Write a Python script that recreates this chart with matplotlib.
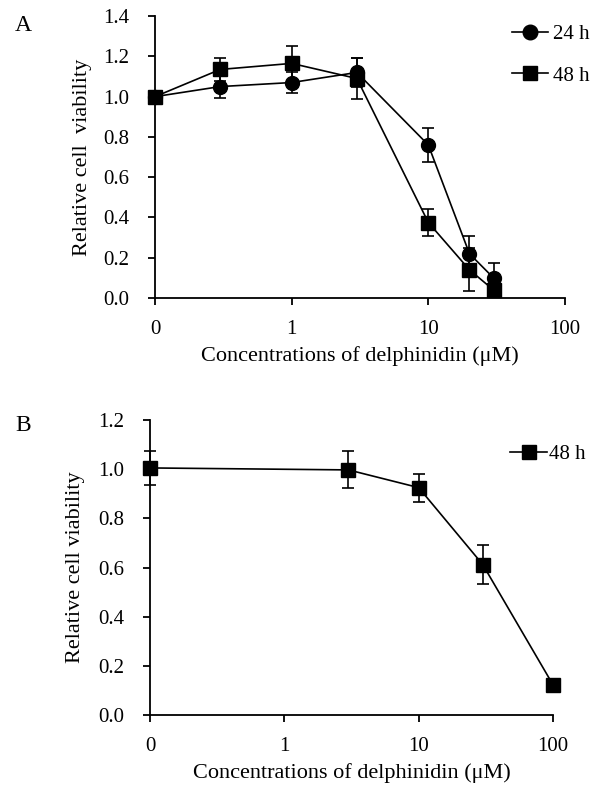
import matplotlib
matplotlib.use("Agg")
import matplotlib.pyplot as plt
from matplotlib.lines import Line2D
from matplotlib.ticker import FixedLocator, FixedFormatter, NullLocator

plt.rcParams['font.family'] = ['Liberation Serif', 'DejaVu Serif']
plt.rcParams['font.size'] = 15

# Panel A data
conc_a = [0.1, 0.3, 1, 3, 10, 20, 30]
v24 = [1.00, 1.05, 1.07, 1.12, 0.76, 0.22, 0.10]
e24 = [0.02, 0.055, 0.05, 0.07, 0.085, 0.09, 0.075]
v48a = [1.00, 1.135, 1.165, 1.09, 0.375, 0.14, 0.04]
e48a = [0.02, 0.055, 0.085, 0.10, 0.065, 0.107, 0.02]

# Panel B data
conc_b = [0.1, 3, 10, 30, 100]
v48b = [1.005, 0.997, 0.925, 0.612, 0.123]
e48b = [0.07, 0.075, 0.057, 0.08, 0.01]

xticks = [0.1, 1, 10, 100]
xticklabels = ["0", "1", "10", "100"]
xlabel = "Concentrations of delphinidin (\u03bcM)"

fig = plt.figure(figsize=(6.02, 7.92), dpi=100)

def style(ax, ymax, ylabel):
    ax.set_xscale('log')
    ax.set_xlim(0.1, 100)
    ax.set_ylim(0, ymax)
    ax.xaxis.set_major_locator(FixedLocator(xticks))
    ax.xaxis.set_major_formatter(FixedFormatter(xticklabels))
    ax.xaxis.set_minor_locator(NullLocator())
    n = int(round(ymax / 0.2))
    ax.set_yticks([round(0.2 * i, 1) for i in range(n + 1)])
    ax.set_yticklabels([f"{0.2 * i:.1f}" for i in range(n + 1)])
    for s in ['top', 'right']:
        ax.spines[s].set_visible(False)
    for s in ['left', 'bottom']:
        ax.spines[s].set_linewidth(1.3)
    ax.tick_params(axis='both', direction='out', length=5, width=1.3, labelsize=15)
    ax.tick_params(axis='x', pad=11)
    ax.tick_params(axis='y', pad=13.5)
    ax.set_xlabel(xlabel, fontsize=16, labelpad=5)
    ax.set_ylabel(ylabel, fontsize=16)

kw = dict(color='black', linewidth=1.2, elinewidth=1.2, capsize=4, capthick=1.2, clip_on=False)

axA = fig.add_axes([0.2575, 0.6237, 0.681, 0.356])
axA.errorbar(conc_a, v24, yerr=e24, marker='o', markersize=10, zorder=3, **kw)
axA.errorbar(conc_a, v48a, yerr=e48a, marker='s', markersize=9.5, zorder=4, **kw)
style(axA, 1.4, "Relative cell  viability")
axA.yaxis.set_label_coords(-0.154, 0.5)
hA = [Line2D([], [], color='black', lw=1.2, marker='o', markersize=10.5),
      Line2D([], [], color='black', lw=1.2, marker='s', markersize=9.5)]
axA.legend(hA, ['24 h', '48 h'], loc='upper left', bbox_to_anchor=(0.8505, 0.969),
           bbox_transform=fig.transFigure, frameon=False, borderpad=0, borderaxespad=0,
           handlelength=1.75, handletextpad=0.2, labelspacing=1.05, fontsize=15)

axB = fig.add_axes([0.2492, 0.0972, 0.6694, 0.3725])
axB.errorbar(conc_b, v48b, yerr=e48b, marker='s', markersize=9.5, zorder=4, **kw)
style(axB, 1.2, "Relative cell viability")
axB.yaxis.set_label_coords(-0.161, 0.5)
hB = [Line2D([], [], color='black', lw=1.2, marker='s', markersize=9.5)]
axB.legend(hB, ['48 h'], loc='upper left', bbox_to_anchor=(0.847, 0.439),
           bbox_transform=fig.transFigure, frameon=False, borderpad=0, borderaxespad=0,
           handlelength=1.8, handletextpad=0.1, fontsize=15)

fig.text(0.025, 0.968, "A", fontsize=17, va='center', ha='left')
fig.text(0.025, 0.463, "B", fontsize=17, va='center', ha='left')

fig.savefig("out.png", dpi=100)
